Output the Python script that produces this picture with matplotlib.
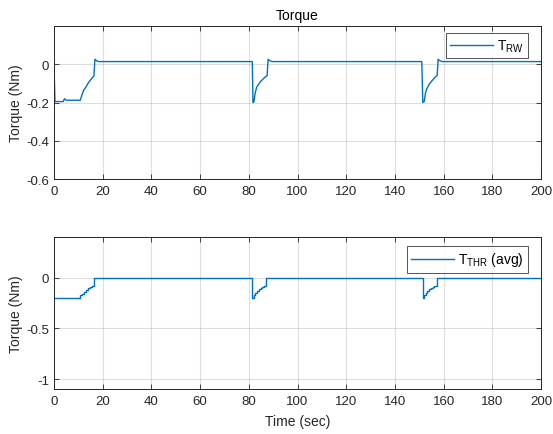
import matplotlib.pyplot as plt
import numpy as np

plt.rcParams['font.family'] = ['Liberation Sans', 'DejaVu Sans']

# reaction wheel torque (Nm) vs time (sec)
t_rw = [0, 0.4, 1.5, 3.8, 4.3, 5.0, 10.8, 11.5, 12.2, 12.8, 13.5, 14.2, 14.8, 15.5, 16.1, 16.4, 16.8, 17.5, 18.5,
        81.4, 81.7, 82.1, 82.6, 83.2, 84.0, 84.8, 85.6, 86.4, 87.2, 87.5, 87.9, 88.6, 89.5,
        151.0, 151.4, 152.0, 152.5, 153.0, 154.0, 155.1, 156.0, 156.9, 157.3, 157.7, 158.4, 159.5, 200]
v_rw = [0, -0.195, -0.195, -0.195, -0.18, -0.188, -0.188, -0.16, -0.135, -0.125, -0.11, -0.095, -0.085, -0.075, -0.065, -0.062, 0.026, 0.018, 0.014,
        0.014, -0.2, -0.195, -0.15, -0.12, -0.105, -0.09, -0.08, -0.07, -0.062, -0.06, 0.026, 0.018, 0.014,
        0.014, -0.2, -0.195, -0.15, -0.13, -0.105, -0.087, -0.075, -0.062, -0.06, 0.026, 0.018, 0.014, 0.014]

# thruster torque (avg), piecewise constant
t_thr = [0, 10.7, 11.5, 12.3, 13.1, 13.9, 14.7, 15.5, 16.5,
         81.4, 82.0, 82.7, 83.4, 84.1, 84.8, 85.5, 86.2, 87.1,
         151.3, 151.9, 152.6, 153.3, 154.0, 154.7, 155.4, 156.1, 157.4, 200]
v_thr = [-0.2, -0.175, -0.16, -0.14, -0.12, -0.1, -0.09, -0.08, 0,
         -0.2, -0.17, -0.15, -0.13, -0.11, -0.1, -0.09, -0.08, 0,
         -0.2, -0.17, -0.15, -0.13, -0.11, -0.1, -0.09, -0.08, 0, 0]

blue = (0, 0.447, 0.741)
dark = (0.15, 0.15, 0.15)

fig = plt.figure(figsize=(5.53, 4.35), dpi=100)
ax1 = fig.add_axes([0.0976, 0.586, 0.881, 0.352])
ax2 = fig.add_axes([0.0976, 0.103, 0.881, 0.350])


def style(ax):
    ax.grid(True, color=dark, alpha=0.15, linewidth=0.8)
    ax.set_axisbelow(True)
    ax.tick_params(direction='in', top=True, right=True, length=3.5, width=0.6,
                   colors=dark, labelsize=9.5)
    ax.tick_params(axis='x', pad=4.5)
    ax.tick_params(axis='y', pad=3.5)
    for s in ax.spines.values():
        s.set_color(dark)
        s.set_linewidth(0.7)
    ax.set_xlim(0, 200)
    ax.set_xticks(np.arange(0, 201, 20))
    ax.set_ylabel('Torque (Nm)', fontsize=10, color=dark)
    ax.yaxis.set_label_coords(-0.064, 0.5)


def legend(ax, anchor):
    leg = ax.legend(loc='upper right', bbox_to_anchor=anchor, fontsize=10, fancybox=False,
                    edgecolor=dark, handlelength=3.1, borderpad=0.3, borderaxespad=0,
                    handletextpad=0.3, handleheight=0.6)
    leg.get_frame().set_linewidth(0.7)


ax1.plot(t_rw, v_rw, color=blue, linewidth=1.0, label=r'T$_{\mathregular{RW}}$')
style(ax1)
ax1.set_ylim(-0.6, 0.2)
ax1.set_yticks([-0.6, -0.4, -0.2, 0])
ax1.set_yticklabels(['-0.6', '-0.4', '-0.2', '0'])
ax1.set_title('Torque', fontsize=10, color='black', pad=5)
legend(ax1, (0.973, 0.952))

ax2.plot(t_thr, v_thr, color=blue, linewidth=1.0, drawstyle='steps-post',
         label=r'T$_{\mathregular{THR}}$ (avg)')
style(ax2)
ax2.set_ylim(-1.1, 0.4)
ax2.set_yticks([-1, -0.5, 0])
ax2.set_yticklabels(['-1', '-0.5', '0'])
ax2.set_xlabel('Time (sec)', fontsize=10, color=dark, labelpad=5)
legend(ax2, (0.9726, 0.939))

fig.savefig('out.png', dpi=100)
